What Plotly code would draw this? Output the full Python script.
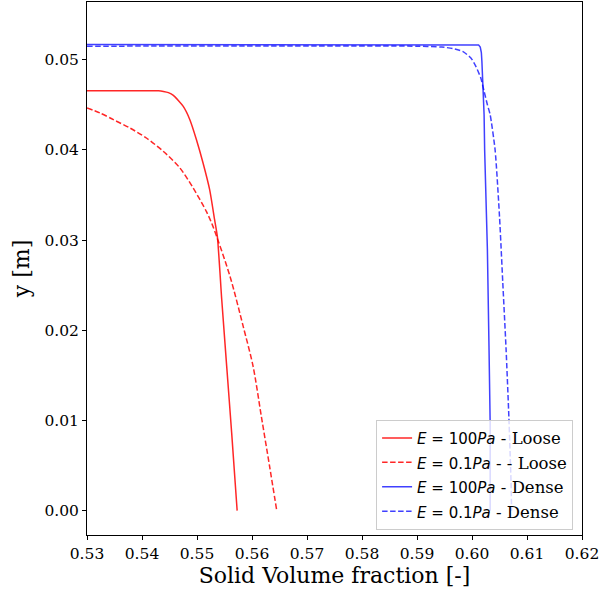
import plotly.graph_objects as go

# E=100Pa Loose (solid red)
loose_100_x = [0.5300, 0.5400, 0.5430, 0.5439, 0.5448, 0.5457, 0.5475, 0.5487, 0.5499, 0.5511, 0.5523, 0.5532, 0.5537, 0.5545, 0.5554, 0.5563, 0.5573]
loose_100_y = [0.04656, 0.04656, 0.04655, 0.04648, 0.04635, 0.04605, 0.04482, 0.04335, 0.04113, 0.03855, 0.03559, 0.03226, 0.03041, 0.02339, 0.01600, 0.00865, 0.0]

# E=0.1Pa Loose (dashed red)
loose_01_x = [0.5300, 0.5324, 0.5348, 0.5378, 0.5408, 0.5439, 0.5469, 0.5493, 0.5517, 0.5529, 0.5560, 0.5584, 0.5602, 0.5617, 0.5632, 0.5645]
loose_01_y = [0.04465, 0.04409, 0.04335, 0.04243, 0.04132, 0.03983, 0.03799, 0.03578, 0.03318, 0.03152, 0.02598, 0.02043, 0.01600, 0.01045, 0.00491, 0.0]

# E=100Pa Dense (solid blue)
dense_100_x = [0.5300, 0.5950, 0.6008, 0.6012, 0.6015, 0.6017, 0.6018, 0.6020, 0.6022, 0.6023, 0.6028, 0.6031, 0.6033, 0.6033]
dense_100_y = [0.05168, 0.05168, 0.05168, 0.05162, 0.05140, 0.05080, 0.04981, 0.04723, 0.04390, 0.04000, 0.02890, 0.01780, 0.00976, 0.0]

# E=0.1Pa Dense (dashed blue)
dense_01_x = [0.5300, 0.5900, 0.5945, 0.5965, 0.5983, 0.5998, 0.6007, 0.6016, 0.6022, 0.6028, 0.6033, 0.6042, 0.6050, 0.6056, 0.6062, 0.6067, 0.6071, 0.6072]
dense_01_y = [0.05150, 0.05150, 0.05140, 0.05125, 0.05092, 0.05019, 0.04926, 0.04797, 0.04649, 0.04501, 0.04390, 0.04000, 0.03263, 0.02524, 0.01785, 0.01045, 0.00310, 0.0]

x_ticks = [0.53, 0.54, 0.55, 0.56, 0.57, 0.58, 0.59, 0.60, 0.61, 0.62]
y_ticks = [0.00, 0.01, 0.02, 0.03, 0.04, 0.05]

serif = "DejaVu Serif"
sans = "DejaVu Sans"

def lbl(e, kind):
    return (f'<span style="font-family:{sans};font-size:15px"><i>E</i> = {e}<i>Pa</i></span>'
            f' - {kind}')

red = "rgba(255,0,0,0.85)"
blue = "rgba(0,0,255,0.75)"

fig = go.Figure()
fig.add_trace(go.Scatter(x=loose_100_x, y=loose_100_y, mode="lines",
                         line=dict(color=red, width=1.5, shape="spline", smoothing=0.6),
                         name=lbl("100", "Loose")))
fig.add_trace(go.Scatter(x=loose_01_x, y=loose_01_y, mode="lines",
                         line=dict(color=red, width=1.5, dash="5.5px,2.5px", shape="spline", smoothing=0.8),
                         name=lbl("0.1", "- Loose")))
fig.add_trace(go.Scatter(x=dense_100_x, y=dense_100_y, mode="lines",
                         line=dict(color=blue, width=1.5), name=lbl("100", "Dense")))
fig.add_trace(go.Scatter(x=dense_01_x, y=dense_01_y, mode="lines",
                         line=dict(color=blue, width=1.5, dash="5.5px,2.5px", shape="spline", smoothing=0.6),
                         name=lbl("0.1", "Dense")))

fig.update_layout(
    width=600, height=592,
    margin=dict(l=87, r=18, t=2, b=57),
    plot_bgcolor="white", paper_bgcolor="white",
    font=dict(family=serif, size=15.5, color="black"),
    showlegend=True,
    legend=dict(x=0.982, y=0.01, xanchor="right", yanchor="bottom",
                bgcolor="rgba(255,255,255,0.8)", bordercolor="#cccccc", borderwidth=1,
                font=dict(family=serif, size=16.5), tracegroupgap=0, itemwidth=30),
)
fig.update_xaxes(range=[0.53, 0.62], tickvals=x_ticks, tickformat=".2f",
                 showgrid=False, zeroline=False, showline=True, linecolor="black", linewidth=1,
                 mirror=True, ticks="outside", ticklen=4, tickcolor="black",
                 title=dict(text="Solid Volume fraction [-]", font=dict(size=22, family=serif), standoff=6))
fig.update_yaxes(range=[-0.0027, 0.0564], tickvals=y_ticks, tickformat=".2f",
                 showgrid=False, zeroline=False, showline=True, linecolor="black", linewidth=1,
                 mirror=True, ticks="outside", ticklen=4, tickcolor="black",
                 title=dict(text="y [m]", font=dict(size=22, family=serif), standoff=8))

fig.write_html("out.html", config={"displayModeBar": False},
               post_script="document.body.style.margin='0px';")
